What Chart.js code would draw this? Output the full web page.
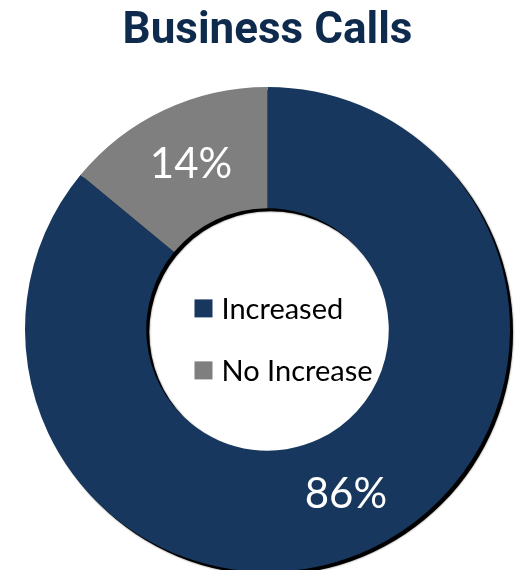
<!DOCTYPE html>
<html>
<head>
<meta charset="utf-8">
<script src="https://cdn.jsdelivr.net/npm/chart.js@4/dist/chart.umd.min.js"></script>
<style>
  html, body { margin: 0; padding: 0; overflow: hidden; background: #fff; }
  #wrap { position: relative; width: 517px; height: 572px; }
</style>
</head>
<body>
<div id="wrap"><canvas id="business-calls"></canvas></div>
<script>
const categories = ['Increased', 'No Increase'];
const shares = [86, 14];
const sliceColors = ['#17375E', '#7F7F7F'];

// black drop shadow under the whole ring
const ringShadow = {
  id: 'ringShadow',
  beforeDatasetsDraw(chart) {
    const arc = chart.getDatasetMeta(0).data[0];
    if (!arc) return;
    const { x, y, outerRadius, innerRadius } = arc;
    const ctx = chart.ctx;
    ctx.save();
    ctx.fillStyle = '#000';
    ctx.shadowColor = 'rgba(0,0,0,0.7)';
    ctx.shadowBlur = 2;
    ctx.beginPath();
    ctx.arc(x + 3, y + 3, outerRadius, 0, Math.PI * 2);
    ctx.moveTo(x + 3 + innerRadius, y + 3);
    ctx.arc(x + 3, y + 3, innerRadius, 0, Math.PI * 2);
    ctx.fill('evenodd');
    ctx.restore();
  }
};

// percentage labels on the slices + legend in the hole
const sliceLabels = {
  id: 'sliceLabels',
  afterDatasetsDraw(chart) {
    const ctx = chart.ctx;
    const meta = chart.getDatasetMeta(0);
    const total = shares.reduce((a, b) => a + b, 0);
    ctx.save();
    ctx.fillStyle = '#fff';
    ctx.font = '42px Lato';
    ctx.textAlign = 'center';
    ctx.textBaseline = 'middle';
    meta.data.forEach((arc, i) => {
      const p = arc.tooltipPosition();
      ctx.fillText(Math.round(shares[i] / total * 100) + '%', p.x + 1, p.y);
    });

    const c = meta.data[0];
    ctx.font = '29px Lato';
    ctx.textAlign = 'left';
    categories.forEach((name, i) => {
      const rowY = c.y - 21 + i * 62;
      ctx.fillStyle = sliceColors[i];
      ctx.fillRect(c.x - 73, rowY - 9, 18, 18);
      ctx.fillStyle = '#000';
      ctx.fillText(name, c.x - 46, rowY + 1);
    });
    ctx.restore();
  }
};

new Chart(document.getElementById('business-calls'), {
  type: 'doughnut',
  data: {
    labels: categories,
    datasets: [{
      data: shares,
      backgroundColor: sliceColors,
      borderWidth: 0,
      hoverOffset: 0
    }]
  },
  options: {
    responsive: true,
    maintainAspectRatio: false,
    animation: false,
    cutout: '50%',
    layout: { padding: { left: 25, right: 7, top: 0, bottom: 0 } },
    plugins: {
      legend: { display: false },
      tooltip: { enabled: false },
      title: {
        display: true,
        text: 'Business Calls',
        color: '#0E2A4D',
        font: { family: 'Roboto', size: 44, weight: 'bold', lineHeight: 1.2 },
        padding: { top: 6, bottom: 28 }
      }
    }
  },
  plugins: [ringShadow, sliceLabels]
});
</script>
</body>
</html>
